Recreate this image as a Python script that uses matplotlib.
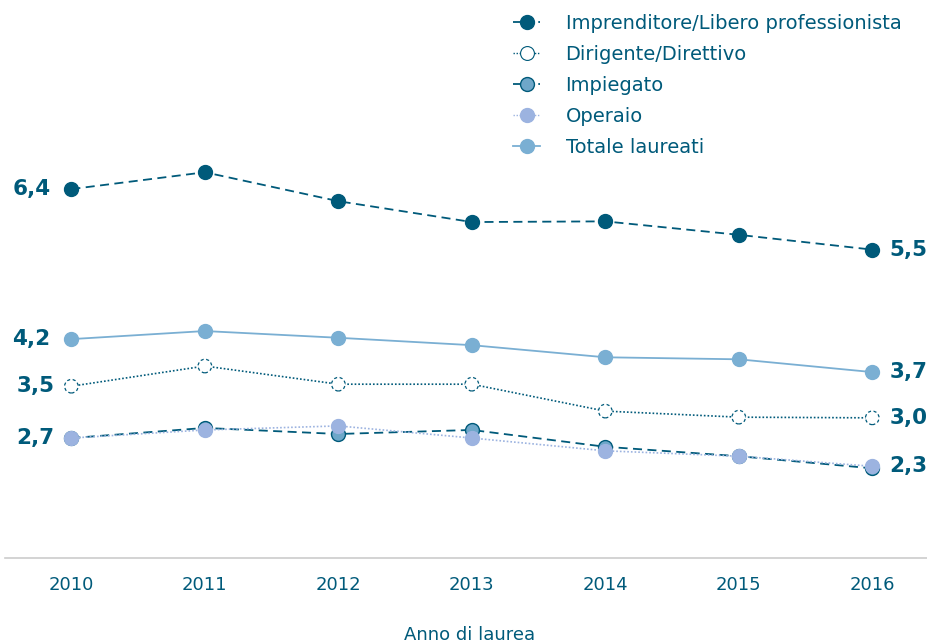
import matplotlib
matplotlib.use("Agg")
import matplotlib.pyplot as plt
from matplotlib.lines import Line2D

years = [2010, 2011, 2012, 2013, 2014, 2015, 2016]
imprenditore = [6.4, 6.65, 6.22, 5.91, 5.92, 5.72, 5.5]
dirigente = [3.47, 3.77, 3.5, 3.5, 3.1, 3.01, 3.0]
impiegato = [2.7, 2.85, 2.76, 2.82, 2.57, 2.43, 2.25]
operaio = [2.7, 2.82, 2.88, 2.7, 2.51, 2.43, 2.28]
totale = [4.17, 4.29, 4.19, 4.08, 3.9, 3.87, 3.68]
labels_left = {"imp": "6,4", "tot": "4,2", "dir": "3,5", "low": "2,7"}
labels_right = {"imp": "5,5", "tot": "3,7", "dir": "3,0", "low": "2,3"}
names = ["Imprenditore/Libero professionista", "Dirigente/Direttivo", "Impiegato", "Operaio", "Totale laureati"]

DARK = "#005a7a"
TOT = "#7aafd3"
OPE = "#9cb3e0"
IMPG = "#6ea7c9"

plt.rcParams['font.family'] = ['DejaVu Sans']
fig = plt.figure(figsize=(9.27, 6.44), dpi=100)
ax = fig.add_axes([0.005, 1 - 558/644, 0.995, 558/644])
ax.set_xlim(2009.5, 2016.41)
ax.set_ylim(0.917, 9.21)

ax.plot(years, totale, color=TOT, lw=1.3, marker='o', ms=10, mfc=TOT, mec=TOT, zorder=3)
ax.plot(years, dirigente, color=DARK, lw=1.2, ls=(0, (1, 1.2)), zorder=3)
ax.scatter(years, dirigente, s=95, facecolor='white', edgecolor=DARK, linewidths=0.9,
           linestyles=(0, (2.5, 2)), zorder=4)
ax.plot(years, impiegato, color=DARK, lw=1.3, ls=(0, (5, 3)), marker='o', ms=10,
        mfc=IMPG, mec=DARK, mew=1.0, zorder=4)
ax.plot(years, operaio, color=OPE, lw=1.2, ls=(0, (1, 1.2)), marker='o', ms=10,
        mfc=OPE, mec=OPE, zorder=5)
ax.plot(years, imprenditore, color=DARK, lw=1.3, ls=(0, (5, 3)), marker='o', ms=10,
        mfc=DARK, mec=DARK, zorder=5)

# value labels
lab_font = dict(fontsize=15.5, fontweight='bold', color=DARK, va='center')
left_vals = [(imprenditore[0], labels_left["imp"], -15), (totale[0], labels_left["tot"], -15),
             (dirigente[0], labels_left["dir"], -12), (impiegato[0], labels_left["low"], -12)]
for v, t, off in left_vals:
    ax.annotate(t, (years[0], v), xytext=(off, 0), textcoords='offset points', ha='right', **lab_font)
right_vals = [(imprenditore[-1], labels_right["imp"]), (totale[-1], labels_right["tot"]),
              (dirigente[-1], labels_right["dir"]), (operaio[-1], labels_right["low"])]
for v, t in right_vals:
    ax.annotate(t, (years[-1], v), xytext=(12.5, 0), textcoords='offset points', ha='left', **lab_font)

for s in ['top', 'right', 'left']:
    ax.spines[s].set_visible(False)
ax.spines['bottom'].set_color('#cccccc')
ax.spines['bottom'].set_linewidth(1.2)
ax.set_yticks([])
ax.set_xticks(years)
ax.set_xticklabels([str(y) for y in years], fontsize=13, color=DARK)
ax.tick_params(axis='x', length=0, pad=13)
ax.set_xlabel("Anno di laurea", fontsize=13, color=DARK)
ax.xaxis.label.set_va('center')
ax.xaxis.set_label_coords((470 - 5) / 922, -77 / 558)

handles = [
    Line2D([], [], color=DARK, lw=1.3, ls=(0, (4, 3)), marker='o', ms=10, mfc=DARK, mec=DARK),
    Line2D([], [], color=DARK, lw=1.0, ls=(0, (1, 1.2)), marker='o', ms=10, mfc='white', mec=DARK, mew=0.8),
    Line2D([], [], color=DARK, lw=1.3, ls=(0, (4, 3)), marker='o', ms=10, mfc=IMPG, mec=DARK),
    Line2D([], [], color=OPE, lw=1.0, ls=(0, (1, 1.2)), marker='o', ms=10, mfc=OPE, mec=OPE),
    Line2D([], [], color=TOT, lw=1.3, marker='o', ms=10, mfc=TOT, mec=TOT),
]
leg = ax.legend(handles, names, loc='upper left', bbox_to_anchor=(513/927, 1.0 - 14/644),
                bbox_transform=fig.transFigure, frameon=False, fontsize=14,
                handlelength=1.4, handletextpad=1.3, labelspacing=0.62, borderaxespad=0,
                borderpad=0)
for t in leg.get_texts():
    t.set_color(DARK)

fig.savefig("out.png", dpi=100)
